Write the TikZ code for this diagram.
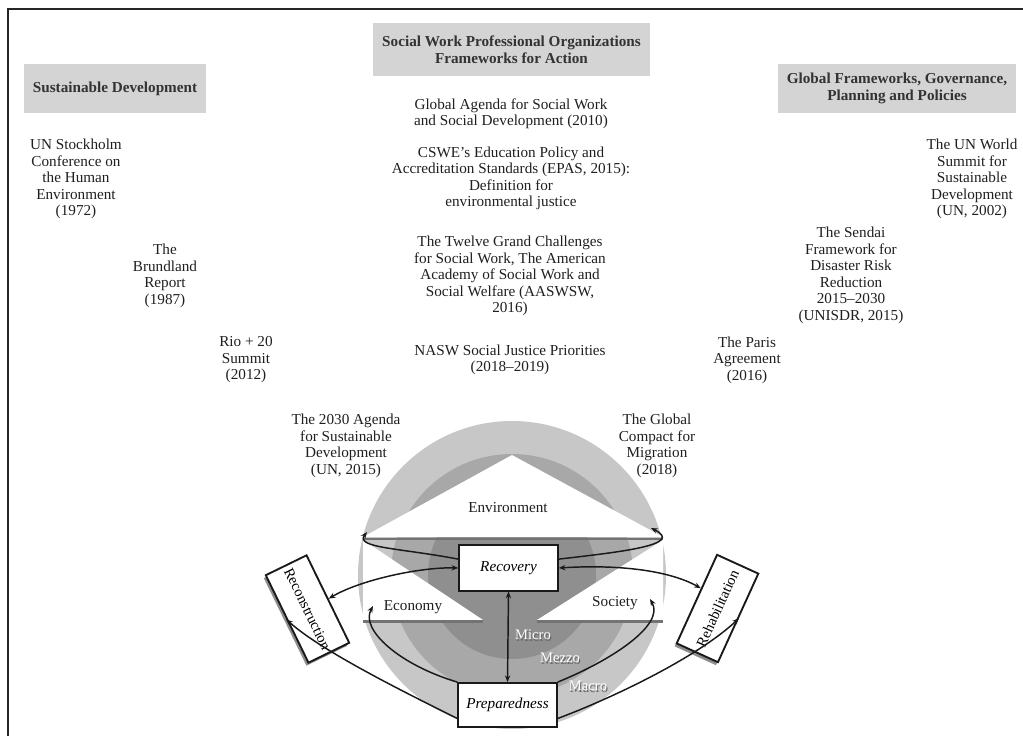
\documentclass[tikz,border=0pt]{standalone}
\usepackage{fontspec}
\setmainfont{Liberation Serif}
\usetikzlibrary{arrows.meta}

\tikzset{
  txt/.style={align=center, inner sep=0pt, text=black!88,
    font=\fontsize{11.4}{12.4}\selectfont},
  headbox/.style={fill=black!17, align=center, inner sep=0pt, text=black!80,
    font=\fontsize{11.4}{12.4}\selectfont\bfseries},
  phase/.style={draw=black!90, line width=1.4pt, fill=white, inner sep=0pt,
    minimum width=74pt, minimum height=34pt, font=\fontsize{11.4}{12}\selectfont\itshape},
  stage/.style={phase, minimum width=73pt, font=\fontsize{11}{12}\selectfont},
  stageshade/.style={stage, draw=none, fill=black!45},
  emboss/.style={inner sep=0pt, text=white, font=\fontsize{11}{12}\selectfont},
  embossshade/.style={emboss, text=black!60},
  link/.style={line width=1.1pt, black!90},
}

\begin{document}
\begin{tikzpicture}[x=0.75pt,y=0.75pt,>={Stealth[length=5pt,width=4pt]}]
\useasboundingbox (0,0) rectangle (1023,735);
\draw[line width=1.5pt, black!85] (8,-20) rectangle (1045,726);

% headers
\node[headbox, minimum width=137pt, minimum height=37pt] (sd) at (115,646.5) {Sustainable Development};
\node[headbox, minimum width=208pt, minimum height=40pt] (swo) at (511.5,685.5)
  {Social Work Professional Organizations\\Frameworks for Action};
\node[headbox, minimum width=178.5pt, minimum height=37pt] (gfg) at (897,646.5)
  {Global Frameworks, Governance,\\Planning and Policies};

% left arc of events
\node[txt] (stockholm) at (76,556) {UN Stockholm\\Conference on\\the Human\\Environment\\(1972)};
\node[txt] (brundland) at (165,459) {The\\Brundland\\Report\\(1987)};
\node[txt] (rio) at (246,375) {Rio + 20\\Summit\\(2012)};
\node[txt] (agenda) at (346,289) {The 2030 Agenda\\for Sustainable\\Development\\(UN, 2015)};

% right arc of events
\node[txt] (worldsummit) at (972,556) {The UN World\\Summit for\\Sustainable\\Development\\(UN, 2002)};
\node[txt] (sendai) at (851,459.5) {The Sendai\\Framework for\\Disaster Risk\\Reduction\\2015--2030\\(UNISDR, 2015)};
\node[txt] (paris) at (747,375) {The Paris\\Agreement\\(2016)};
\node[txt] (compact) at (657,289) {The Global\\Compact for\\Migration\\(2018)};

% middle column
\node[txt] (globalagenda) at (511,621) {Global Agenda for Social Work\\and Social Development (2010)};
\node[txt] (cswe) at (511,556.5) {CSWE's Education Policy and\\Accreditation Standards (EPAS, 2015):\\Definition for\\environmental justice};
\node[txt] (challenges) at (510,459) {The Twelve Grand Challenges\\for Social Work, The American\\Academy of Social Work and\\Social Welfare (AASWSW,\\2016)};
\node[txt] (nasw) at (510,375) {NASW Social Justice Priorities\\(2018--2019)};

% micro / mezzo / macro rings
\fill[black!22] (512,160) circle (154);
\fill[black!34] (512,160) circle (121);
\fill[black!44] (512,160) circle (84);

% white triangles
\fill[white] (363,198) -- (512,280) -- (663,198) -- cycle;
\fill[white] (363,195) -- (363,115) -- (483,115) -- cycle;
\fill[white] (663,195) -- (663,115) -- (537,115) -- cycle;
\draw[line width=2.2pt, black!55] (363,196) -- (663,196);
\draw[line width=2.2pt, black!55] (363,113.5) -- (483,113.5);
\draw[line width=2.2pt, black!55] (537,113.5) -- (663,113.5);

\node[txt] (environment) at (508,227) {Environment};
\node[txt] (economy) at (413,128) {Economy};
\node[txt] (society) at (615,132) {Society};

\foreach \lvl/\px/\py in {Micro/533/100, Mezzo/560/77, Macro/588/49} {
  \node[embossshade] (\lvl-shade) at (\px+1,\py-2) {\lvl};
  \node[emboss] (\lvl) at (\px,\py) {\lvl};
}

% phases
\node[phase] (recovery) at (508.5,167) {Recovery};
\node[phase, minimum height=33pt] (preparedness) at (507.5,30) {Preparedness};
\node[stageshade, rotate=-64] (reconstruction-shade) at (305.5,123) {};
\node[stage, rotate=-64] (reconstruction) at (307.5,126) {Reconstruction};
\node[stageshade, rotate=65.5] (rehabilitation-shade) at (715.5,123.5) {};
\node[stage, rotate=65.5] (rehabilitation) at (717.5,126.5) {Rehabilitation};

% tips of the loops
\coordinate (envLtip) at (367,203);
\coordinate (envRtip) at (651,207);
\coordinate (econtip) at (373,129);
\coordinate (soctip) at (650,136);

% connectors
\draw[link,->] (recovery.170) .. controls (400,187) and (355,187) .. (envLtip);
\draw[link,->] (recovery.10) .. controls (620,183) and (685,190) .. (envRtip);
\draw[link,<->] (reconstruction.north) .. controls (360,155) and (420,168) .. (recovery.west);
\draw[link,<->] (recovery.east) .. controls (625,171) and (672,163) .. (rehabilitation.64);
\draw[link,<->] (recovery.south) -- (preparedness.north);
\draw[link,->] (preparedness.north west) .. controls (400,70) and (360,105) .. (econtip);
\draw[link,->] (preparedness.north east) .. controls (612,75) and (665,110) .. (soctip);
\draw[link,->] (preparedness.195) .. controls (400,45) and (320,85) .. (reconstruction.south);
\draw[link,->] (preparedness.345) .. controls (620,40) and (700,80) .. (rehabilitation.south);
\end{tikzpicture}
\end{document}
